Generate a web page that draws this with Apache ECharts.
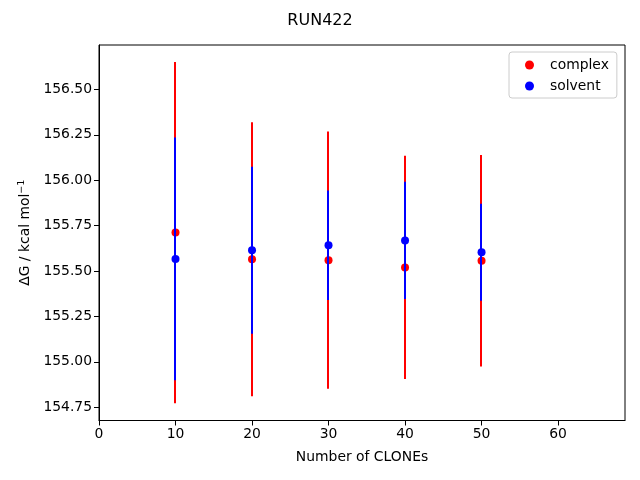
<!DOCTYPE html>
<html>
<head>
<meta charset="utf-8">
<script src="https://cdn.jsdelivr.net/npm/echarts@6/dist/echarts.min.js"></script>
<style>html,body{margin:0;padding:0;background:#fff}#c{width:640px;height:480px}</style>
</head>
<body>
<div id="c"></div>
<script>
const clones = [10, 20, 30, 40, 50];
const complexMean = [155.712, 155.565, 155.560, 155.520, 155.557];
const complexErr = [0.940, 0.755, 0.708, 0.615, 0.582];
const solventMean = [155.567, 155.615, 155.642, 155.669, 155.604];
const solventErr = [0.668, 0.460, 0.301, 0.323, 0.267];
const xTicks = [0, 10, 20, 30, 40, 50, 60];
const yTicks = [154.75, 155.00, 155.25, 155.50, 155.75, 156.00, 156.25, 156.50];

const FONT = 'DejaVu Sans';
const chart = echarts.init(document.getElementById('c'), null, {renderer: 'canvas'});

function errSeries(name, means, errs, color, z) {
  return {
    type: 'custom',
    name: name + '_err',
    z: z,
    silent: true,
    data: clones.map((c, i) => [c, means[i] - errs[i], means[i] + errs[i]]),
    renderItem: function (params, api) {
      const p1 = api.coord([api.value(0), api.value(1)]);
      const p2 = api.coord([api.value(0), api.value(2)]);
      const x = Math.round(p1[0] - 0.5);
      return {
        type: 'line',
        shape: {x1: x, y1: p1[1], x2: x, y2: p2[1]},
        style: {stroke: color, lineWidth: 2}
      };
    }
  };
}

const option = {
  animation: false,
  backgroundColor: '#fff',
  title: {
    text: 'RUN422', left: 'center', top: 8,
    textStyle: {fontFamily: FONT, fontSize: 16, fontWeight: 'normal', color: '#000'}
  },
  legend: {
    data: ['complex', 'solvent'],
    orient: 'vertical',
    left: 509, top: 52,
    padding: [6, 8, 5, 16],
    itemGap: 7,
    itemWidth: 9, itemHeight: 9,
    icon: 'circle',
    backgroundColor: '#fff',
    borderColor: '#cccccc', borderWidth: 1, borderRadius: 3,
    textStyle: {fontFamily: FONT, fontSize: 13.9, color: '#000', lineHeight: 14, padding: [0, 0, 0, 11]}
  },
  grid: {
    left: 99, right: 15, top: 45, bottom: 59.5,
    show: true, borderColor: '#000', borderWidth: 1, backgroundColor: 'transparent'
  },
  xAxis: {
    type: 'value', min: 0, max: 68.75,
    name: 'Number of CLONEs', nameLocation: 'middle', nameGap: 30,
    nameTextStyle: {fontFamily: FONT, fontSize: 13.9, color: '#000'},
    splitLine: {show: false},
    axisLine: {show: true, onZero: false, lineStyle: {color: '#000', width: 1}},
    axisTick: {show: true, length: 5, lineStyle: {color: '#000'}, customValues: xTicks},
    axisLabel: {fontFamily: FONT, fontSize: 13.9, color: '#000', margin: 7, customValues: xTicks,
      formatter: v => String(v)}
  },
  yAxis: {
    type: 'value', min: 154.677, max: 156.745,
    name: 'ΔG / kcal mol{sup|−1}', nameLocation: 'middle', nameGap: 64, nameRotate: 90,
    nameTextStyle: {fontFamily: FONT, fontSize: 13.9, color: '#000',
      rich: {sup: {fontFamily: FONT, fontSize: 9.5, color: '#000', padding: [0, 0, 7, 0]}}},
    splitLine: {show: false},
    axisLine: {show: true, onZero: false, lineStyle: {color: '#000', width: 1}},
    axisTick: {show: true, length: 5, lineStyle: {color: '#000'}, customValues: yTicks},
    axisLabel: {fontFamily: FONT, fontSize: 13.9, color: '#000', margin: 7, customValues: yTicks,
      formatter: v => Number(v).toFixed(2)}
  },
  series: [
    errSeries('complex', complexMean, complexErr, '#ff0000', 1),
    {
      type: 'scatter', name: 'complex', z: 2,
      symbol: 'circle', symbolSize: 8,
      itemStyle: {color: '#ff0000', opacity: 1},
      data: clones.map((c, i) => [c, complexMean[i]])
    },
    errSeries('solvent', solventMean, solventErr, '#0000ff', 3),
    {
      type: 'scatter', name: 'solvent', z: 4,
      symbol: 'circle', symbolSize: 8,
      itemStyle: {color: '#0000ff', opacity: 1},
      data: clones.map((c, i) => [c, solventMean[i]])
    }
  ]
};
chart.setOption(option);
</script>
</body>
</html>
